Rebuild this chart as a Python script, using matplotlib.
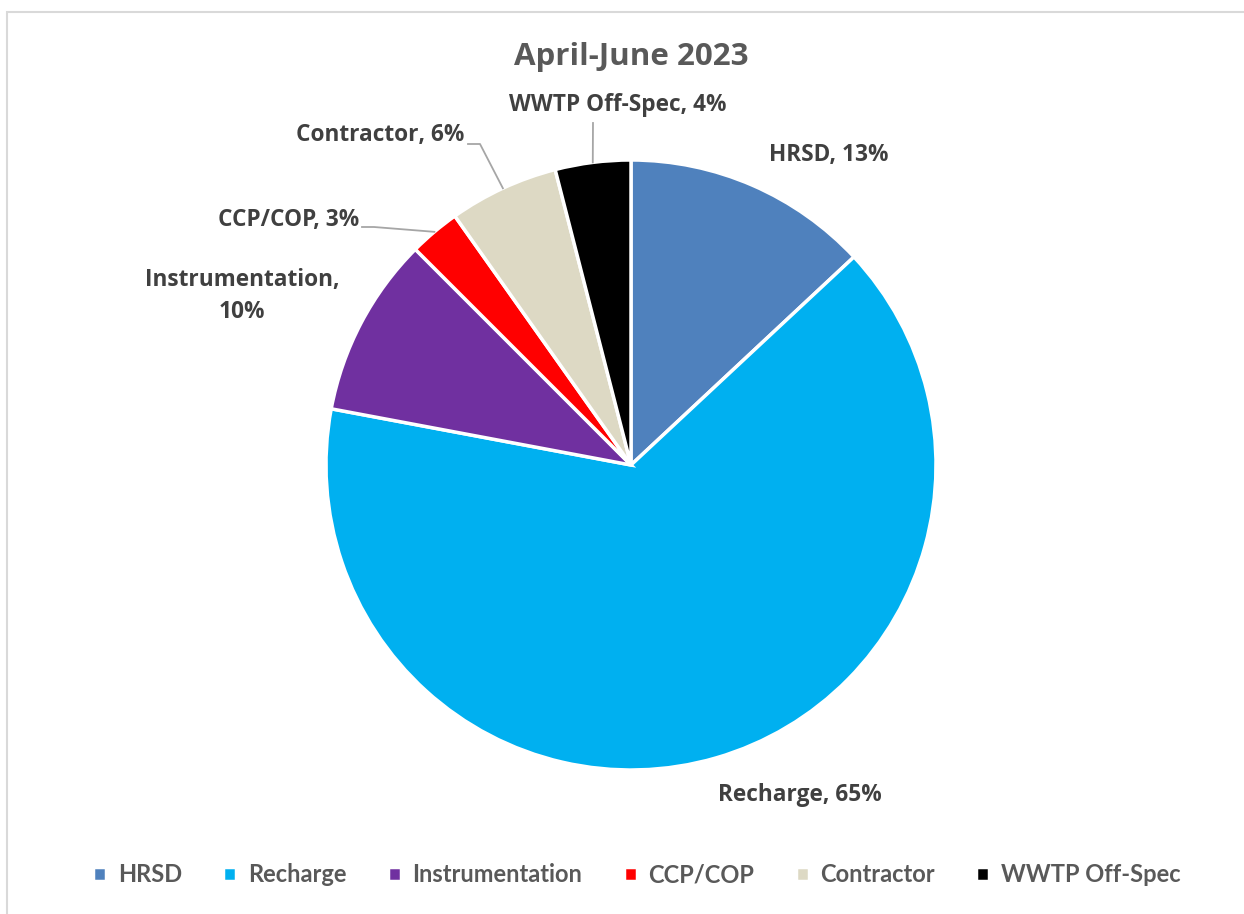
import matplotlib.pyplot as plt
import numpy as np
from matplotlib.patches import Rectangle

categories = ['HRSD', 'Recharge', 'Instrumentation', 'CCP/COP', 'Contractor', 'WWTP Off-Spec']
values = [13.05, 64.9, 9.55, 2.7, 5.8, 4.0]
colors = ['#4F81BD', '#00B0F0', '#7030A0', '#FF0000', '#DDD9C4', '#000000']
title = 'April-June 2023'

# label layout in pixel coords (x, y from top), and where a leader line starts
label_xy = [(829, 155), (800, 795), (242, 296), (289, 220), (380, 135), (618, 105)]
label_text = ['HRSD, 13%', 'Recharge, 65%', 'Instrumentation,\n10%', 'CCP/COP, 3%',
              'Contractor, 6%', 'WWTP Off-Spec, 4%']
leader_start = [None, None, None, (362, 227), (468, 144), (593, 123)]

W, H = 1244, 914
fig = plt.figure(figsize=(W / 100, H / 100), dpi=100)
ax = fig.add_axes([0, 0, 1, 1])

# chart border
ax.add_patch(Rectangle((7, -10), W + 20, H - 12 + 10, fill=False, edgecolor='#D9D9D9', lw=1.5))

cx, cy, r = 631, H - 465, 305
wedges, _ = ax.pie(values, colors=colors, startangle=90, counterclock=False,
                   center=(cx, cy), radius=r, frame=True,
                   wedgeprops=dict(edgecolor='white', linewidth=2.5))
ax.set_xlim(0, W)
ax.set_ylim(0, H)
ax.set_aspect('equal')
ax.axis('off')

font = 'Open Sans'
for i, w in enumerate(wedges):
    lx, ly = label_xy[i]
    ax.text(lx, H - ly, label_text[i], ha='center', va='center', fontsize=16.3,
            fontweight='bold', color='#404040', family=font, linespacing=1.45)
    if leader_start[i] is not None:
        mid = np.deg2rad((w.theta1 + w.theta2) / 2)
        px, py = cx + r * np.cos(mid), cy + r * np.sin(mid)
        sx, sy = leader_start[i]
        sy = H - sy
        if i == 5:
            xs, ys = [sx, px], [sy, py]
        else:
            xs, ys = [sx, sx + 12, px], [sy, sy, py]
        ax.plot(xs, ys, color='#A6A6A6', lw=1.3)

ax.text(W / 2 + 9, H - 57, title, ha='center', va='center', fontsize=22.5,
        fontweight='bold', color='#595959', family=font)

leg = ax.legend(wedges, categories, loc='center', bbox_to_anchor=(0.512, 1 - 875 / H),
                ncol=6, frameon=False, handlelength=0.55, handleheight=0.55,
                columnspacing=1.75, handletextpad=0.5,
                prop=dict(family='Lato', size=17, weight='bold'))
for t in leg.get_texts():
    t.set_color('#595959')

fig.savefig('out.png', dpi=100)
